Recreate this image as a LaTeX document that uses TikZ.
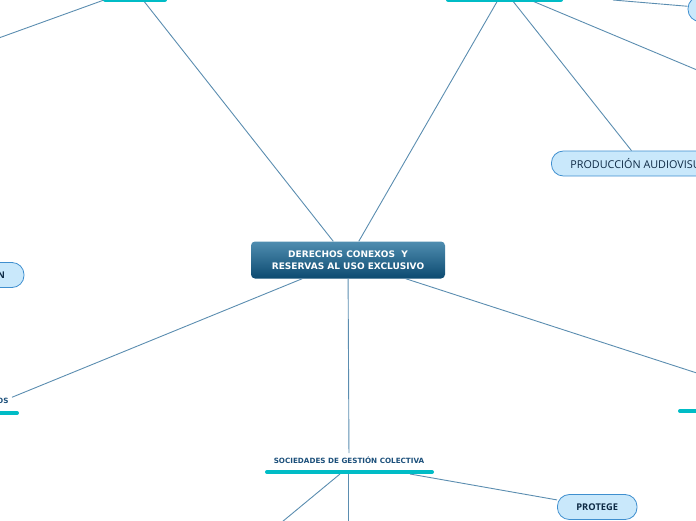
\documentclass[tikz,border=0pt]{standalone}
\usepackage{fontspec}
\setmainfont{DejaVu Sans}
\newfontfamily\leaffont{Open Sans}
\usetikzlibrary{positioning}
\definecolor{linkblue}{HTML}{5B8DB0}
\definecolor{barcyan}{HTML}{00BCC6}
\definecolor{topicblue}{HTML}{1B4F7A}
\definecolor{leaffill}{HTML}{C9E8FB}
\definecolor{leafedge}{HTML}{3F8FCF}
\definecolor{leaftext}{HTML}{0E2A45}
\definecolor{maintop}{HTML}{4F8DB0}
\definecolor{mainbot}{HTML}{0C4A70}
\begin{document}
\begin{tikzpicture}[x=1pt, y=-1pt,
  link/.style={draw=linkblue, line width=0.9pt},
  bar/.style={draw=barcyan, line width=4pt, line cap=round},
  topic/.style={text=topicblue, font=\bfseries\fontsize{7.2}{8}\selectfont},
  leaf/.style={draw=leafedge, fill=leaffill, line width=0.8pt, rounded corners=12pt,
    minimum height=25pt, inner xsep=19pt, text=leaftext, font=\leaffont\fontsize{10.8}{12}\selectfont},
  boldleaf/.style={leaf, font=\leaffont\bfseries\fontsize{9.3}{11}\selectfont},
  central/.style={top color=maintop, bottom color=mainbot, rounded corners=4pt,
    minimum width=194pt, minimum height=37pt, align=center, text=white,
    font=\bfseries\fontsize{9}{12}\selectfont}]
  \useasboundingbox (0,0) rectangle (696,520);
  \clip (0,0) rectangle (696,520);
  % centre
  \node[central] (main) at (348,260) {DERECHOS CONEXOS\ \ Y\\RESERVAS AL USO EXCLUSIVO};
  % leaves
  \node[leaf, anchor=west] (prod) at (551,163.5) {PRODUCCIÓN AUDIOVISUAL};
  \node[leaf, minimum width=64pt] (trN) at (720,9) {};
  \node[boldleaf, text width=60pt, align=right] (leftN) at (-25,275) {N};
  \node[boldleaf, anchor=west] (prot) at (557,507) {PROTEGE};
  % topics
  \node[topic] (soc) at (349,460) {SOCIEDADES DE GESTIÓN COLECTIVA};
  \node[topic, anchor=east] (blT) at (12,401) {OS};
  % top left branch
  \coordinate (tlA) at (143,0);
  \coordinate (tlB) at (104,0);
  \coordinate (tlEnd) at (-40,52);
  \draw[link] (tlA) -- (main);
  \draw[link] (tlB) -- (tlEnd);
  \draw[bar] (105,-0.5) -- (165,-0.5);
  % top right branch
  \coordinate (trA) at (498,0);
  \coordinate (trB) at (512,0);
  \coordinate (trC) at (530,0);
  \coordinate (trD) at (613,0);
  \coordinate (trEnd) at (740,88);
  \draw[link] (main) -- (trA);
  \draw[link] (trB) -- (prod);
  \draw[link] (trC) -- (trEnd);
  \draw[link] (trD) -- (trN);
  \draw[bar] (448,-0.5) -- (561,-0.5);
  % bottom left and right
  \draw[link] (main) -- (blT);
  \draw[bar] (-30,413) -- (17,413);
  \coordinate (rbT) at (740,387);
  \draw[link] (main) -- (rbT);
  \draw[bar] (680,411) -- (720,411);
  % bottom branch
  \coordinate (socA) at (340,474);
  \coordinate (socB) at (348,474);
  \coordinate (socC) at (410,474);
  \coordinate (socAEnd) at (259,541);
  \coordinate (socBEnd) at (348,541);
  \draw[link] (main) -- (soc);
  \draw[link] (socA) -- (socAEnd);
  \draw[link] (socB) -- (socBEnd);
  \draw[link] (socC) -- (prot);
  \draw[bar] (267,472) -- (432,472);
\end{tikzpicture}
\end{document}
